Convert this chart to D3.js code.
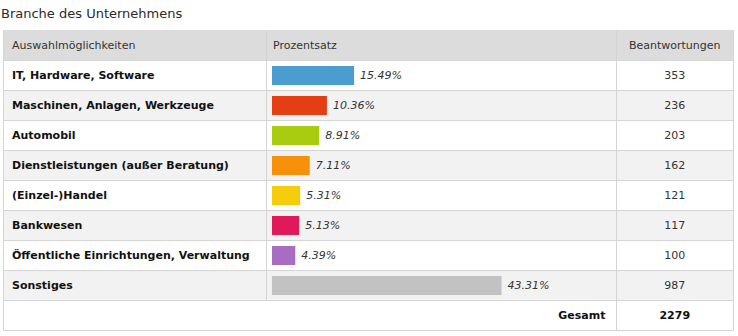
<!DOCTYPE html>
<html><head><meta charset="utf-8">
<script src="https://cdn.jsdelivr.net/npm/d3@7"></script>
<style>
html,body{margin:0;padding:0;background:#fff;}
svg{display:block;}
</style></head>
<body>
<script>
const title = "Branche des Unternehmens";
const headers = ["Auswahlmöglichkeiten", "Prozentsatz", "Beantwortungen"];
const categories = ["IT, Hardware, Software", "Maschinen, Anlagen, Werkzeuge", "Automobil", "Dienstleistungen (außer Beratung)", "(Einzel-)Handel", "Bankwesen", "Öffentliche Einrichtungen, Verwaltung", "Sonstiges"];
const percents = [15.49, 10.36, 8.91, 7.11, 5.31, 5.13, 4.39, 43.31];
const counts = [353, 236, 203, 162, 121, 117, 100, 987];
const colors = ["#4b9dd0", "#e53e14", "#a9cb10", "#f7900b", "#f6cd0c", "#e01a5a", "#a86cc3", "#c2c2c2"];
const totalLabel = "Gesamt";
const totalValue = 2279;

const W = 738, H = 336;
const svg = d3.select("body").append("svg").attr("width", W).attr("height", H);

const leftX = 3, rightX = 733, c1 = 266.5, c2 = 616.5;
const topY = 30, rowH = 30;
const font = "Tahoma, 'DejaVu Sans', Verdana, sans-serif";
const fs = 11;

const y = d3.scaleBand().domain(d3.range(categories.length)).range([topY + rowH, topY + rowH * (categories.length + 1)]);
const x = d3.scaleLinear().domain([0, 100]).range([0, 530]);
const barX = 272;

svg.append("text").attr("x", 1).attr("y", 18).text(title)
  .attr("font-family", font).attr("font-size", 13).attr("fill", "#2a2a2a");

// header
svg.append("rect").attr("x", leftX).attr("y", topY).attr("width", rightX - leftX).attr("height", rowH).attr("fill", "#dcdcdc");
// rows
svg.selectAll("rect.row").data(categories).join("rect").attr("class", "row")
  .attr("x", leftX).attr("y", (d, i) => y(i)).attr("width", rightX - leftX).attr("height", y.bandwidth())
  .attr("fill", (d, i) => i % 2 ? "#f2f2f2" : "#ffffff");

// horizontal lines
const lineColor = "#d4d4d4";
const hl = d3.range(categories.length + 1).map(i => topY + rowH * (i + 1));
svg.selectAll("line.h").data(hl.concat([topY + rowH * (categories.length + 2)])).join("line")
  .attr("x1", leftX).attr("x2", rightX).attr("y1", d => d + 0.5).attr("y2", d => d + 0.5)
  .attr("stroke", lineColor);
// verticals
const bottomRows = topY + rowH * (categories.length + 1);
const bottomAll = bottomRows + rowH;
[[leftX + 0.5, topY, bottomAll], [rightX + 0.5, topY, bottomAll], [c1, topY, bottomRows], [c2, topY, bottomAll]].forEach(([xx, a, b]) => {
  svg.append("line").attr("x1", xx).attr("x2", xx).attr("y1", a).attr("y2", b + 0.5).attr("stroke", lineColor);
});

// header text
const dy = rowH / 2 + 4;
const hy = topY + dy;
svg.append("text").attr("x", 12).attr("y", hy).text(headers[0]).attr("font-family", font).attr("font-size", fs).attr("fill", "#333");
svg.append("text").attr("x", 273).attr("y", hy).text(headers[1]).attr("font-family", font).attr("font-size", fs).attr("fill", "#333");
svg.append("text").attr("x", (c2 + rightX) / 2).attr("y", hy).attr("text-anchor", "middle").text(headers[2]).attr("font-family", font).attr("font-size", fs).attr("fill", "#333");

// labels
svg.selectAll("text.cat").data(categories).join("text").attr("class", "cat")
  .attr("x", 12).attr("y", (d, i) => y(i) + dy).text(d => d)
  .attr("font-family", font).attr("font-size", fs).attr("font-weight", "bold").attr("fill", "#111");

// bars
svg.selectAll("rect.bar").data(percents).join("rect").attr("class", "bar")
  .attr("x", barX).attr("y", (d, i) => y(i) + 6).attr("width", d => x(d)).attr("height", 19)
  .attr("fill", (d, i) => colors[i]);
svg.selectAll("text.pct").data(percents).join("text").attr("class", "pct")
  .attr("x", d => barX + x(d) + 6).attr("y", (d, i) => y(i) + dy)
  .text(d => d.toFixed(2) + "%")
  .attr("font-family", font).attr("font-size", fs).attr("font-style", "italic").attr("fill", "#333");

// counts
svg.selectAll("text.cnt").data(counts).join("text").attr("class", "cnt")
  .attr("x", (c2 + rightX) / 2).attr("y", (d, i) => y(i) + dy).attr("text-anchor", "middle")
  .text(d => d).attr("font-family", font).attr("font-size", fs).attr("fill", "#333");

// total
const ty = bottomRows + dy;
svg.append("text").attr("x", c2 - 11).attr("y", ty).attr("text-anchor", "end").text(totalLabel)
  .attr("font-family", font).attr("font-size", fs).attr("font-weight", "bold").attr("fill", "#111");
svg.append("text").attr("x", (c2 + rightX) / 2).attr("y", ty).attr("text-anchor", "middle").text(totalValue)
  .attr("font-family", font).attr("font-size", fs).attr("font-weight", "bold").attr("fill", "#111");
</script>
</body></html>
